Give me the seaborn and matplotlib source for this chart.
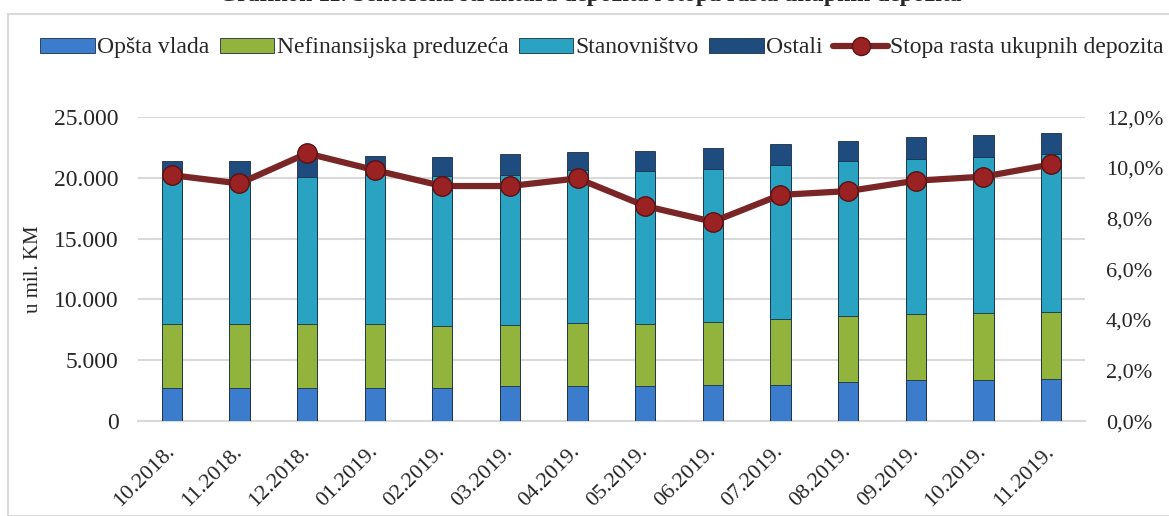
import numpy as np
import pandas as pd
import seaborn as sns
from matplotlib import pyplot as plt
from matplotlib.patches import Rectangle, Patch
from matplotlib.lines import Line2D
from matplotlib.ticker import FuncFormatter

months = ['10.2018.', '11.2018.', '12.2018.', '01.2019.', '02.2019.', '03.2019.', '04.2019.',
          '05.2019.', '06.2019.', '07.2019.', '08.2019.', '09.2019.', '10.2019.', '11.2019.']
# u mil. KM
opsta_vlada = [2690, 2740, 2740, 2740, 2740, 2910, 2910, 2910, 2990, 2990, 3180, 3350, 3350, 3460]
nefinansijska = [5290, 5240, 5240, 5240, 5100, 5020, 5160, 5070, 5160, 5410, 5490, 5460, 5560, 5510]
stanovnistvo = [11970, 11920, 12120, 12220, 12350, 12320, 12590, 12620, 12590, 12670, 12750, 12780, 12840, 12980]
ostali = [1470, 1520, 1900, 1640, 1560, 1700, 1510, 1650, 1700, 1700, 1650, 1760, 1760, 1730]
stopa_rasta = [9.71, 9.38, 10.57, 9.91, 9.28, 9.28, 9.58, 8.49, 7.87, 8.93, 9.08, 9.49, 9.65, 10.13]

series = ['Opšta vlada', 'Nefinansijska preduzeća', 'Stanovništvo', 'Ostali']
colors = ['#3b7dcc', '#93b43c', '#2aa3c2', '#1f4c7e']

df = pd.DataFrame({'mjesec': months, 'Opšta vlada': opsta_vlada,
                   'Nefinansijska preduzeća': nefinansijska,
                   'Stanovništvo': stanovnistvo, 'Ostali': ostali})
cum = df[series].cumsum(axis=1)

sns.set_style('white')
plt.rcParams['font.family'] = ['Liberation Serif', 'DejaVu Serif']

fig = plt.figure(figsize=(11.69, 5.16), dpi=100)
ax = fig.add_axes([0.118, 0.184, 0.810, 0.589])

# stacked bars: draw cumulative totals, tallest first
for s, c in reversed(list(zip(series, colors))):
    sns.barplot(x=df['mjesec'], y=cum[s], color=c, width=0.3, saturation=1,
                edgecolor='#1b2f45', linewidth=0.6, ax=ax, zorder=3)

ax.set_ylim(0, 25000)
ax.set_yticks(np.arange(0, 25001, 5000))
ax.yaxis.set_major_formatter(FuncFormatter(lambda v, p: '{:,.0f}'.format(v).replace(',', '.')))
ax.grid(axis='y', color='#d9d9d9', linewidth=1.5, zorder=0)
ax.set_axisbelow(True)
for sp in ['top', 'right', 'left']:
    ax.spines[sp].set_visible(False)
ax.spines['bottom'].set_color('#d9d9d9')
ax.spines['bottom'].set_linewidth(1.5)
ax.set_xlabel('')
ax.set_ylabel('u mil. KM', fontsize=15, labelpad=8)
ax.tick_params(axis='y', labelsize=17, length=0, pad=14)
ax.tick_params(axis='x', labelsize=16, length=5, color='#d9d9d9', width=1.5, pad=15)
ax.set_xlim(-0.5, len(months) - 0.5)
plt.setp(ax.get_xticklabels(), rotation=45, ha='right', va='center', rotation_mode='anchor')

ax2 = ax.twinx()
sns.lineplot(x=np.arange(len(months)), y=stopa_rasta, color='#7b2626', linewidth=4.5,
             marker='o', markersize=14, markerfacecolor='#9b2222', markeredgecolor='#5a1212',
             markeredgewidth=1, ax=ax2, zorder=5)
ax2.set_ylim(0, 12)
ax2.set_yticks(np.arange(0, 12.1, 2))
ax2.yaxis.set_major_formatter(FuncFormatter(lambda v, p: '{:.1f}%'.format(v).replace('.', ',')))
ax2.tick_params(axis='y', labelsize=16, length=0, pad=15)
for sp in ax2.spines.values():
    sp.set_visible(False)
ax2.set_xlim(-0.5, len(months) - 0.5)

handles = [Patch(facecolor=c, edgecolor='#1b2f45', linewidth=0.6) for c in colors]
handles.append(Line2D([0], [0], color='#7b2626', linewidth=4.5, marker='o', markersize=13,
                      markerfacecolor='#9b2222', markeredgecolor='#5a1212'))
fig.legend(handles, series + ['Stopa rasta ukupnih depozita'], loc='center', ncol=5,
           bbox_to_anchor=(0.515, 0.907), frameon=False, fontsize=17, handlelength=2.3,
           handleheight=0.6, handletextpad=0.1, columnspacing=0.45)

fig.text(0.505, 1 - 1 / 516, 'Grafikon 11. Sektorska struktura depozita i stopa rasta ukupnih depozita',
         ha='center', va='baseline', fontsize=17, fontweight='bold')
fig.patches.append(Rectangle((8 / 1169, 0), 1.2, 1 - 14 / 516, transform=fig.transFigure,
                             fill=False, edgecolor='#d9d9d9', linewidth=1.5))

fig.savefig('out.png', dpi=100)
